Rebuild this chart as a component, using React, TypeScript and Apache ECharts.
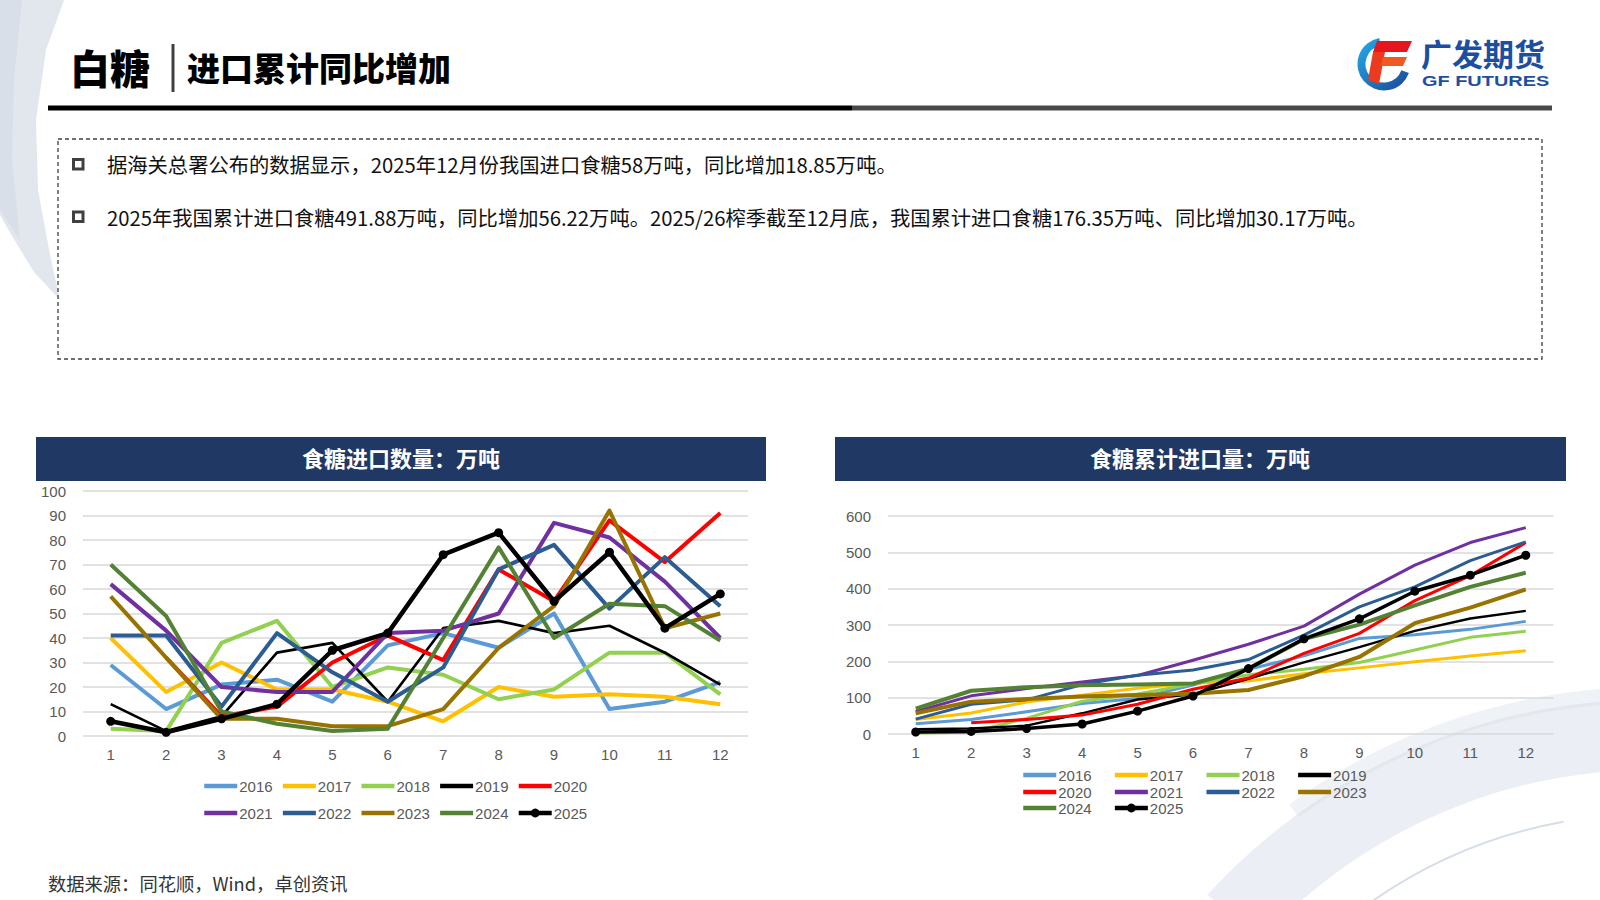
import React, { useEffect, useRef } from "react";
import * as echarts from "echarts";

const months = ["1", "2", "3", "4", "5", "6", "7", "8", "9", "10", "11", "12"];
const years = ["2016", "2017", "2018", "2019", "2020", "2021", "2022", "2023", "2024", "2025"];
const yearColors = ["#5B9BD5", "#FFC000", "#92D050", "#000000", "#FF0000", "#7030A0", "#2B5C92", "#997300", "#548235", "#000000"];

// 食糖进口数量（万吨）
const monthly2016 = [29, 11, 21, 23, 14, 37, 42, 36, 50, 11, 14, 22];
const monthly2017 = [40, 18, 30, 19, 19, 14, 6, 20, 16, 17, 16, 13];
const monthly2018 = [3, 2, 38, 47, 20, 28, 25, 15, 19, 34, 34, 17];
const monthly2019 = [13, 2, 8, 34, 38, 14, 44, 47, 42, 45, 34, 21];
const monthly2020 = [null, 32, 8, 12, 30, 41, 31, 68, 55, 88, 71, 91];
const monthly2021 = [62, 43, 20, 18, 18, 42, 43, 50, 87, 81, 63, 40];
const monthly2022 = [41, 41, 12, 42, 26, 14, 28, 68, 78, 52, 73, 53];
const monthly2023 = [57, 32, 7, 7, 4, 4, 11, 36, 53, 92, 44, 50];
const monthly2024 = [70, 49, 10, 5, 2, 3, 40, 77, 40, 54, 53, 39];
const monthly2025 = [6, 1.5, 7, 13, 35, 42, 74, 83, 55, 75, 44, 58];

// 食糖累计进口量（万吨）
const cum2016 = [28, 40, 61, 84, 98, 135, 178, 215, 263, 273, 288, 310];
const cum2017 = [40, 58, 88, 107, 126, 140, 146, 166, 182, 199, 215, 229];
const cum2018 = [3, 5, 43, 90, 110, 138, 163, 178, 197, 231, 266, 283];
const cum2019 = [13, 15, 23, 57, 95, 109, 152, 197, 239, 284, 318, 339];
const cum2020 = [null, 31, 40, 52, 82, 123, 154, 222, 277, 367, 436, 527];
const cum2021 = [62, 105, 125, 143, 161, 203, 247, 297, 385, 465, 527, 568];
const cum2022 = [41, 82, 94, 136, 162, 176, 205, 272, 350, 405, 477, 529];
const cum2023 = [57, 89, 96, 103, 107, 111, 121, 159, 212, 305, 348, 398];
const cum2024 = [70, 119, 129, 134, 136, 139, 180, 261, 301, 354, 405, 444];
const cum2025 = [5.5, 7, 15, 27.5, 63, 104.5, 180, 262, 317, 393, 437, 492];

const leftTicks = [0, 100, 10];
const rightTicks = [0, 600, 100];

const bullet1 = "据海关总署公布的数据显示，2025年12月份我国进口食糖58万吨，同比增加18.85万吨。";
const bullet2 = "2025年我国累计进口食糖491.88万吨，同比增加56.22万吨。2025/26榨季截至12月底，我国累计进口食糖176.35万吨、同比增加30.17万吨。";
const titleMain = "白糖";
const titleSub = "进口累计同比增加";
const leftTitle = "食糖进口数量：万吨";
const rightTitle = "食糖累计进口量：万吨";
const sourceText = "数据来源：同花顺，Wind，卓创资讯";

const monthlyData = [monthly2016, monthly2017, monthly2018, monthly2019, monthly2020, monthly2021, monthly2022, monthly2023, monthly2024, monthly2025];
const cumData = [cum2016, cum2017, cum2018, cum2019, cum2020, cum2021, cum2022, cum2023, cum2024, cum2025];

const CJK = '"Noto Sans CJK SC", "Noto Sans", sans-serif';
const NUM = '"Liberation Sans", Arial, sans-serif';

export default function App() {
  const ref = useRef<HTMLDivElement>(null);
  useEffect(() => {
    if (!ref.current) return;
    const chart = echarts.init(ref.current, undefined, { renderer: "svg" });

    const leftWidth = (y: string) => (y === "2019" ? 2.7 : y === "2025" ? 4.5 : 4);
    const rightWidth = (y: string) => (y === "2019" ? 2.4 : y === "2025" ? 3.5 : y === "2023" || y === "2024" ? 4 : 3);

    const series: any[] = [];
    years.forEach((y, i) => {
      series.push({
        type: "line",
        name: y,
        xAxisIndex: 0,
        yAxisIndex: 0,
        data: monthlyData[i],
        symbol: y === "2025" ? "circle" : "none",
        symbolSize: 9,
        showSymbol: y === "2025",
        lineStyle: { width: leftWidth(y), color: yearColors[i], join: "round" },
        itemStyle: { color: yearColors[i] },
        emphasis: { disabled: true },
        silent: true,
      });
    });
    years.forEach((y, i) => {
      series.push({
        type: "line",
        name: y,
        xAxisIndex: 1,
        yAxisIndex: 1,
        data: cumData[i],
        symbol: y === "2025" ? "circle" : "none",
        symbolSize: 9,
        showSymbol: y === "2025",
        lineStyle: { width: rightWidth(y), color: yearColors[i], join: "round" },
        itemStyle: { color: yearColors[i] },
        emphasis: { disabled: true },
        silent: true,
      });
    });

    const legendItems = (names: string[]) =>
      names.map((n) => (n === "2025" ? { name: n } : { name: n, itemStyle: { opacity: 0 } }));

    const legendBase = {
      orient: "horizontal",
      padding: 0,
      itemWidth: 33,
      itemHeight: 11,
      selectedMode: false,
      lineStyle: { width: 4.5 },
      textStyle: { fontSize: 15, color: "#595959", fontFamily: NUM, lineHeight: 16, padding: [0, 0, 0, -3] },
    };

    const xAxisBase = {
      type: "category",
      data: months,
      boundaryGap: true,
      axisLine: { show: false },
      axisTick: { show: false },
      axisLabel: { interval: 0, fontSize: 15, color: "#595959", fontFamily: NUM, margin: 11 },
      splitLine: { show: false },
    };
    const yAxisBase = {
      type: "value",
      axisLine: { show: false },
      axisTick: { show: false },
      splitLine: { show: true, lineStyle: { color: "#D9D9D9", width: 1.5 } },
      axisLabel: { fontSize: 15, color: "#595959", fontFamily: NUM, margin: 17 },
    };

    const graphic: any[] = [
      // background brush decorations
      {
        type: "polygon",
        z: -10,
        shape: { points: [[0, 0], [64, 0], [46, 50], [36, 120], [38, 190], [50, 255], [60, 300], [34, 272], [12, 236], [0, 215]] },
        style: { fill: "#E2E7EE" },
      },
      {
        type: "polygon",
        z: -9,
        shape: { points: [[0, 0], [22, 0], [14, 80], [12, 160], [20, 240], [0, 210]] },
        style: { fill: "#D8DFE8" },
      },
      {
        type: "arc",
        z: -10,
        shape: { cx: 1650, cy: 1300, r: 565, startAngle: -2.4, endAngle: -1.45, clockwise: true },
        style: { stroke: "rgba(210,218,231,0.45)", lineWidth: 70, fill: "none" },
      },
      {
        type: "arc",
        z: -10,
        shape: { cx: 1650, cy: 1300, r: 605, startAngle: -2.2, endAngle: -1.5, clockwise: true },
        style: { stroke: "rgba(215,222,233,0.4)", lineWidth: 16, fill: "none" },
      },
      {
        type: "arc",
        z: -10,
        shape: { cx: 1650, cy: 1300, r: 486, startAngle: -2.2, endAngle: -1.75, clockwise: true },
        style: { stroke: "rgba(200,210,225,0.75)", lineWidth: 2, fill: "none" },
      },
      // title
      {
        type: "text",
        x: 70,
        y: 67,
        style: { text: titleMain, fontSize: 40, fontWeight: 900, fill: "#000", fontFamily: CJK, verticalAlign: "middle" },
      },
      { type: "rect", shape: { x: 171.5, y: 44, width: 3, height: 48 }, style: { fill: "#404040" } },
      {
        type: "text",
        x: 187,
        y: 67,
        style: { text: titleSub, fontSize: 33, fontWeight: 900, fill: "#000", fontFamily: CJK, verticalAlign: "middle" },
      },
      { type: "rect", shape: { x: 48, y: 105.5, width: 804, height: 5 }, style: { fill: "#000" } },
      { type: "rect", shape: { x: 852, y: 105.5, width: 700, height: 5 }, style: { fill: "#484848" } },
      // logo
      {
        type: "group",
        x: 1357,
        y: 37,
        children: [
          {
            type: "arc",
            shape: { cx: 27, cy: 27, r: 22.5, startAngle: -1.75, endAngle: 0.35, clockwise: false },
            style: {
              stroke: new echarts.graphic.LinearGradient(0, 0, 1, 1, [
                { offset: 0, color: "#23A6E6" },
                { offset: 1, color: "#1B4E9E" },
              ]),
              lineWidth: 8,
              fill: "none",
            },
          },
          {
            type: "polygon",
            shape: { points: [[20, 4], [55, 4], [50, 15], [16, 15]] },
            style: { fill: "#E8141E" },
          },
          {
            type: "polygon",
            shape: { points: [[16, 15], [28, 15], [22, 47], [11, 43]] },
            style: { fill: "#EC3A1F" },
          },
          {
            type: "polygon",
            shape: { points: [[26, 20], [50, 20], [46, 29], [24, 29]] },
            style: { fill: "#F05A22" },
          },
        ],
      },
      {
        type: "text",
        x: 1421,
        y: 52,
        style: { text: "广发期货", fontSize: 31, fontWeight: "bold", fill: "#1C4FA1", fontFamily: CJK, verticalAlign: "middle" },
      },
      {
        type: "text",
        x: 1422,
        y: 81,
        scaleX: 1.33,
        style: { text: "GF FUTURES", fontSize: 15, fontWeight: "bold", fill: "#1C4FA1", fontFamily: NUM, verticalAlign: "middle" },
      },
      // text box
      {
        type: "rect",
        shape: { x: 58, y: 139, width: 1484, height: 220 },
        style: { fill: "none", stroke: "#404040", lineWidth: 1.3, lineDash: [4, 3] },
      },
      { type: "rect", shape: { x: 73.5, y: 159.5, width: 9.5, height: 9.5 }, style: { fill: "none", stroke: "#404040", lineWidth: 3 } },
      { type: "rect", shape: { x: 73.5, y: 212, width: 9.5, height: 9.5 }, style: { fill: "none", stroke: "#404040", lineWidth: 3 } },
      {
        type: "text",
        x: 107,
        y: 164,
        style: { text: bullet1, fontSize: 20.3, fill: "#111", fontFamily: CJK, verticalAlign: "middle" },
      },
      {
        type: "text",
        x: 107,
        y: 217,
        style: { text: bullet2, fontSize: 20.3, fill: "#111", fontFamily: CJK, verticalAlign: "middle" },
      },
      // chart headers
      { type: "rect", shape: { x: 36, y: 437, width: 730, height: 44 }, style: { fill: "#203864" } },
      { type: "rect", shape: { x: 835, y: 437, width: 731, height: 44 }, style: { fill: "#203864" } },
      {
        type: "text",
        x: 401,
        y: 457,
        style: { text: leftTitle, fontSize: 22, fontWeight: "bold", fill: "#fff", fontFamily: CJK, align: "center", verticalAlign: "middle" },
      },
      {
        type: "text",
        x: 1200,
        y: 457,
        style: { text: rightTitle, fontSize: 22, fontWeight: "bold", fill: "#fff", fontFamily: CJK, align: "center", verticalAlign: "middle" },
      },
      {
        type: "text",
        x: 48,
        y: 883,
        style: { text: sourceText, fontSize: 18.3, fill: "#333", fontFamily: CJK, verticalAlign: "middle" },
      },
    ];

    chart.setOption({
      animation: false,
      backgroundColor: "#ffffff",
      textStyle: { fontFamily: NUM },
      grid: [
        { left: 83, right: 852, top: 491, bottom: 164 },
        { left: 888, right: 46.5, top: 516, bottom: 166 },
      ],
      xAxis: [
        { ...xAxisBase, gridIndex: 0 },
        { ...xAxisBase, gridIndex: 1 },
      ],
      yAxis: [
        { ...yAxisBase, gridIndex: 0, min: leftTicks[0], max: leftTicks[1], interval: leftTicks[2] },
        { ...yAxisBase, gridIndex: 1, min: rightTicks[0], max: rightTicks[1], interval: rightTicks[2] },
      ],
      legend: [
        { ...legendBase, data: legendItems(years.slice(0, 5)), left: 202, top: 778, itemGap: 8 },
        { ...legendBase, data: legendItems(years.slice(5, 10)), left: 202, top: 805, itemGap: 8 },
        { ...legendBase, data: legendItems(years.slice(0, 4)), left: 1021, top: 767, itemGap: 21 },
        { ...legendBase, data: legendItems(years.slice(4, 8)), left: 1021, top: 784, itemGap: 21 },
        { ...legendBase, data: legendItems(years.slice(8, 10)), left: 1021, top: 800, itemGap: 21 },
      ],
      graphic,
      series,
    });

    return () => chart.dispose();
  }, []);

  return (
    <div
      ref={ref}
      style={{ position: "fixed", left: 0, top: 0, width: 1600, height: 900, background: "#fff" }}
    />
  );
}
